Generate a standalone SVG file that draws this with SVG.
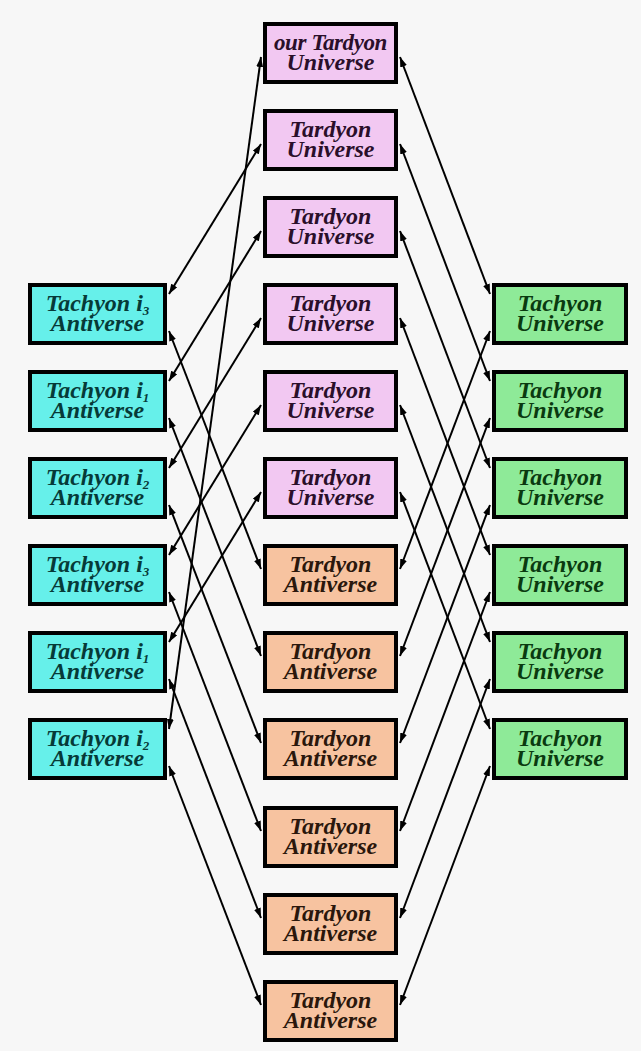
<svg xmlns="http://www.w3.org/2000/svg" width="641" height="1051" viewBox="0 0 641 1051">
<defs>
<marker id="ah" markerUnits="userSpaceOnUse" markerWidth="10" markerHeight="7" refX="10" refY="3.5" orient="auto-start-reverse">
<path d="M0,0 L10,3.5 L0,7 z" fill="#000"/>
</marker>
<style>
.box{stroke:#000;stroke-width:4}
.u{fill:#f2c8f2}
.a{fill:#f7c3a0}
.c{fill:#66f0ea}
.g{fill:#8eea98}
text{font-family:"Liberation Serif","Times New Roman",serif;font-weight:bold;font-style:italic;font-size:24px;text-anchor:middle}
.tu{fill:#2a0f2a}
.ta{fill:#2a170c}
.tc{fill:#063a38}
.tg{fill:#0a3a10}
.sub{font-size:13px}
.our{font-size:23px;letter-spacing:-0.4px}
#connectors line{stroke:#000;stroke-width:2;marker-start:url(#ah);marker-end:url(#ah)}
</style>
</defs>
<rect x="0" y="0" width="641" height="1051" fill="#f7f7f7"/>
<g id="connectors">
<line x1="261" y1="144" x2="169" y2="294"/>
<line x1="261" y1="231" x2="169" y2="381"/>
<line x1="261" y1="318" x2="169" y2="468"/>
<line x1="261" y1="405" x2="169" y2="555"/>
<line x1="261" y1="492" x2="169" y2="642"/>
<line x1="261" y1="57" x2="169" y2="729"/>
<line x1="169" y1="331" x2="261" y2="569"/>
<line x1="169" y1="418" x2="261" y2="656"/>
<line x1="169" y1="505" x2="261" y2="743"/>
<line x1="169" y1="592" x2="261" y2="831"/>
<line x1="169" y1="679" x2="261" y2="918"/>
<line x1="169" y1="766" x2="261" y2="1005"/>
<line x1="400" y1="57" x2="490" y2="294"/>
<line x1="400" y1="144" x2="490" y2="381"/>
<line x1="400" y1="231" x2="490" y2="468"/>
<line x1="400" y1="318" x2="490" y2="555"/>
<line x1="400" y1="405" x2="490" y2="642"/>
<line x1="400" y1="492" x2="490" y2="729"/>
<line x1="490" y1="331" x2="400" y2="569"/>
<line x1="490" y1="418" x2="400" y2="656"/>
<line x1="490" y1="505" x2="400" y2="743"/>
<line x1="490" y1="592" x2="400" y2="831"/>
<line x1="490" y1="679" x2="400" y2="918"/>
<line x1="490" y1="766" x2="400" y2="1005"/>
</g>
<g id="c0"><rect class="box u" x="265" y="24" width="131" height="58"/><text class="tu" x="330.5" y="50"><tspan class="our" x="330.5">our Tardyon</tspan><tspan x="330.5" dy="20">Universe</tspan></text></g>
<g id="c1"><rect class="box u" x="265" y="111" width="131" height="58"/><text class="tu" x="330.5" y="137"><tspan x="330.5">Tardyon</tspan><tspan x="330.5" dy="20">Universe</tspan></text></g>
<g id="c2"><rect class="box u" x="265" y="198" width="131" height="58"/><text class="tu" x="330.5" y="224"><tspan x="330.5">Tardyon</tspan><tspan x="330.5" dy="20">Universe</tspan></text></g>
<g id="c3"><rect class="box u" x="265" y="285" width="131" height="58"/><text class="tu" x="330.5" y="311"><tspan x="330.5">Tardyon</tspan><tspan x="330.5" dy="20">Universe</tspan></text></g>
<g id="c4"><rect class="box u" x="265" y="372" width="131" height="58"/><text class="tu" x="330.5" y="398"><tspan x="330.5">Tardyon</tspan><tspan x="330.5" dy="20">Universe</tspan></text></g>
<g id="c5"><rect class="box u" x="265" y="459" width="131" height="58"/><text class="tu" x="330.5" y="485"><tspan x="330.5">Tardyon</tspan><tspan x="330.5" dy="20">Universe</tspan></text></g>
<g id="c6"><rect class="box a" x="265" y="546" width="131" height="58"/><text class="ta" x="330.5" y="572"><tspan x="330.5">Tardyon</tspan><tspan x="330.5" dy="20">Antiverse</tspan></text></g>
<g id="c7"><rect class="box a" x="265" y="633" width="131" height="58"/><text class="ta" x="330.5" y="659"><tspan x="330.5">Tardyon</tspan><tspan x="330.5" dy="20">Antiverse</tspan></text></g>
<g id="c8"><rect class="box a" x="265" y="720" width="131" height="58"/><text class="ta" x="330.5" y="746"><tspan x="330.5">Tardyon</tspan><tspan x="330.5" dy="20">Antiverse</tspan></text></g>
<g id="c9"><rect class="box a" x="265" y="808" width="131" height="58"/><text class="ta" x="330.5" y="834"><tspan x="330.5">Tardyon</tspan><tspan x="330.5" dy="20">Antiverse</tspan></text></g>
<g id="c10"><rect class="box a" x="265" y="895" width="131" height="58"/><text class="ta" x="330.5" y="921"><tspan x="330.5">Tardyon</tspan><tspan x="330.5" dy="20">Antiverse</tspan></text></g>
<g id="c11"><rect class="box a" x="265" y="982" width="131" height="58"/><text class="ta" x="330.5" y="1008"><tspan x="330.5">Tardyon</tspan><tspan x="330.5" dy="20">Antiverse</tspan></text></g>
<g id="l1"><rect class="box c" x="30" y="285" width="135" height="58"/><text class="tc" x="97.5" y="311"><tspan x="97.5">Tachyon i<tspan class="sub" dy="4">3</tspan></tspan><tspan x="97.5" dy="16">Antiverse</tspan></text></g>
<g id="l2"><rect class="box c" x="30" y="372" width="135" height="58"/><text class="tc" x="97.5" y="398"><tspan x="97.5">Tachyon i<tspan class="sub" dy="4">1</tspan></tspan><tspan x="97.5" dy="16">Antiverse</tspan></text></g>
<g id="l3"><rect class="box c" x="30" y="459" width="135" height="58"/><text class="tc" x="97.5" y="485"><tspan x="97.5">Tachyon i<tspan class="sub" dy="4">2</tspan></tspan><tspan x="97.5" dy="16">Antiverse</tspan></text></g>
<g id="l4"><rect class="box c" x="30" y="546" width="135" height="58"/><text class="tc" x="97.5" y="572"><tspan x="97.5">Tachyon i<tspan class="sub" dy="4">3</tspan></tspan><tspan x="97.5" dy="16">Antiverse</tspan></text></g>
<g id="l5"><rect class="box c" x="30" y="633" width="135" height="58"/><text class="tc" x="97.5" y="659"><tspan x="97.5">Tachyon i<tspan class="sub" dy="4">1</tspan></tspan><tspan x="97.5" dy="16">Antiverse</tspan></text></g>
<g id="l6"><rect class="box c" x="30" y="720" width="135" height="58"/><text class="tc" x="97.5" y="746"><tspan x="97.5">Tachyon i<tspan class="sub" dy="4">2</tspan></tspan><tspan x="97.5" dy="16">Antiverse</tspan></text></g>
<g id="r1"><rect class="box g" x="494" y="285" width="132" height="58"/><text class="tg" x="560" y="311"><tspan x="560">Tachyon</tspan><tspan x="560" dy="20">Universe</tspan></text></g>
<g id="r2"><rect class="box g" x="494" y="372" width="132" height="58"/><text class="tg" x="560" y="398"><tspan x="560">Tachyon</tspan><tspan x="560" dy="20">Universe</tspan></text></g>
<g id="r3"><rect class="box g" x="494" y="459" width="132" height="58"/><text class="tg" x="560" y="485"><tspan x="560">Tachyon</tspan><tspan x="560" dy="20">Universe</tspan></text></g>
<g id="r4"><rect class="box g" x="494" y="546" width="132" height="58"/><text class="tg" x="560" y="572"><tspan x="560">Tachyon</tspan><tspan x="560" dy="20">Universe</tspan></text></g>
<g id="r5"><rect class="box g" x="494" y="633" width="132" height="58"/><text class="tg" x="560" y="659"><tspan x="560">Tachyon</tspan><tspan x="560" dy="20">Universe</tspan></text></g>
<g id="r6"><rect class="box g" x="494" y="720" width="132" height="58"/><text class="tg" x="560" y="746"><tspan x="560">Tachyon</tspan><tspan x="560" dy="20">Universe</tspan></text></g>
</svg>
